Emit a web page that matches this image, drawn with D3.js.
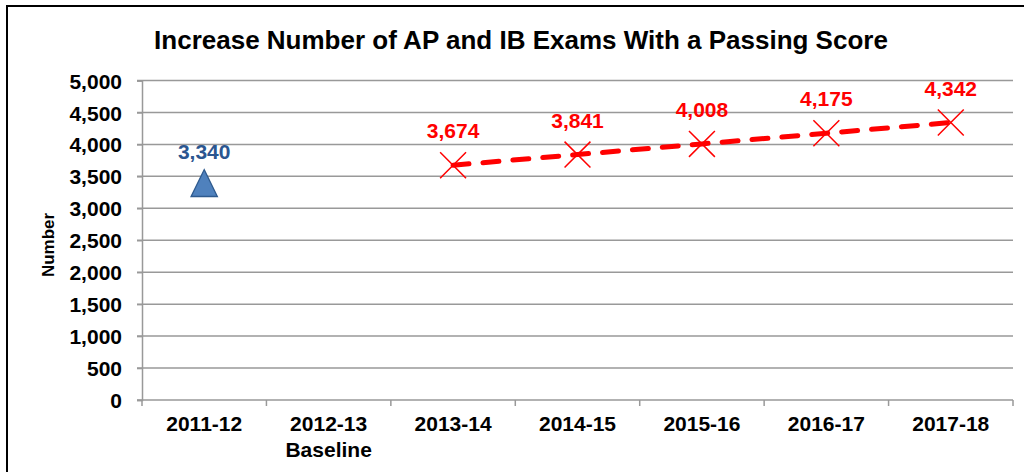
<!DOCTYPE html>
<html>
<head>
<meta charset="utf-8">
<script src="https://cdn.jsdelivr.net/npm/d3@7"></script>
<style>
  body { margin: 0; background: #fff; }
  svg { font-family: Arial, "Liberation Sans", sans-serif; }
</style>
</head>
<body>
<svg id="chart" width="1024" height="472"></svg>
<script>
// data
var categories = ["2011-12", "2012-13", "2013-14", "2014-15", "2015-16", "2016-17", "2017-18"];
var categoryNotes = ["", "Baseline", "", "", "", "", ""];
var actualValues = [3340, null, null, null, null, null, null];
var targetValues = [null, null, 3674, 3841, 4008, 4175, 4342];
var yTicks = [0, 500, 1000, 1500, 2000, 2500, 3000, 3500, 4000, 4500, 5000];

var svg = d3.select("#chart");
var plotLeft = 142, plotRight = 1013, plotTop = 80.5, plotBottom = 400;

// outer frame (right and bottom edges fall outside the picture)
svg.append("rect")
    .attr("x", 7).attr("y", 6)
    .attr("width", 1040).attr("height", 500)
    .attr("fill", "none")
    .attr("stroke", "#000")
    .attr("stroke-width", 2);

svg.append("text")
    .attr("x", 521)
    .attr("y", 49)
    .attr("text-anchor", "middle")
    .attr("font-size", "26px")
    .attr("font-weight", "bold")
    .text("Increase Number of AP and IB Exams With a Passing Score");

var x = d3.scaleBand().domain(categories).range([plotLeft, plotRight]);
var y = d3.scaleLinear().domain([0, 5000]).range([plotBottom, plotTop]);

// gridlines
svg.append("g")
    .selectAll("line")
    .data(yTicks)
    .enter().append("line")
    .attr("x1", plotLeft - 5).attr("x2", plotRight)
    .attr("y1", function(d) { return y(d); })
    .attr("y2", function(d) { return y(d); })
    .attr("stroke", "#999")
    .attr("stroke-width", 1.5);

// y axis
var yAxis = svg.append("g")
    .attr("transform", "translate(" + plotLeft + ",0)")
    .call(d3.axisLeft(y).tickValues(yTicks).tickSize(5).tickPadding(15).tickFormat(d3.format(",")));
yAxis.select(".domain").attr("stroke", "#999").attr("stroke-width", 1.5);
yAxis.selectAll(".tick line").attr("stroke", "#999").attr("stroke-width", 1.5);
yAxis.selectAll("text")
    .attr("font-size", "21px")
    .attr("font-weight", "bold")
    .attr("fill", "#000")
    .attr("dy", "0.36em")
    .attr("font-family", "Arial, 'Liberation Sans', sans-serif");

// x axis: ticks at category boundaries
var xAxis = svg.append("g").attr("transform", "translate(0," + plotBottom + ")");
var bounds = categories.map(function(c) { return x(c); }).concat([plotRight]);
xAxis.selectAll("line")
    .data(bounds)
    .enter().append("line")
    .attr("x1", function(d) { return d; }).attr("x2", function(d) { return d; })
    .attr("y1", 0).attr("y2", 6)
    .attr("stroke", "#999")
    .attr("stroke-width", 1.5);

xAxis.selectAll("text.cat")
    .data(categories)
    .enter().append("text")
    .attr("class", "cat")
    .attr("x", function(d) { return x(d) + x.bandwidth() / 2; })
    .attr("y", 31)
    .attr("text-anchor", "middle")
    .attr("font-size", "21px")
    .attr("font-weight", "bold")
    .text(function(d) { return d; });

xAxis.selectAll("text.note")
    .data(categories)
    .enter().append("text")
    .attr("class", "note")
    .attr("x", function(d) { return x(d) + x.bandwidth() / 2; })
    .attr("y", 57)
    .attr("text-anchor", "middle")
    .attr("font-size", "21px")
    .attr("font-weight", "bold")
    .text(function(d, i) { return categoryNotes[i]; });

svg.append("text")
    .attr("transform", "translate(54,245) rotate(-90)")
    .attr("text-anchor", "middle")
    .attr("font-size", "17px")
    .attr("font-weight", "bold")
    .text("Number");

function cx(i) { return x(categories[i]) + x.bandwidth() / 2; }

// target series: dashed red line with x markers
var targetPts = targetValues.map(function(v, i) { return { i: i, v: v }; })
    .filter(function(d) { return d.v !== null; });

var line = d3.line()
    .x(function(d) { return cx(d.i); })
    .y(function(d) { return y(d.v); });

svg.append("path")
    .datum(targetPts)
    .attr("d", line)
    .attr("fill", "none")
    .attr("stroke", "#FF0000")
    .attr("stroke-width", 5)
    .attr("stroke-dasharray", "16,14")
    .attr("stroke-linecap", "round");

var cross = d3.symbol().type(d3.symbolX).size(440);
svg.selectAll("path.xmark")
    .data(targetPts)
    .enter().append("path")
    .attr("class", "xmark")
    .attr("d", cross)
    .attr("transform", function(d) { return "translate(" + cx(d.i) + "," + y(d.v) + ")"; })
    .attr("fill", "none")
    .attr("stroke", "#FF0000")
    .attr("stroke-width", 1.5);

svg.selectAll("text.tlabel")
    .data(targetPts)
    .enter().append("text")
    .attr("class", "tlabel")
    .attr("x", function(d) { return cx(d.i); })
    .attr("y", function(d) { return y(d.v) - 27; })
    .attr("text-anchor", "middle")
    .attr("font-size", "21px")
    .attr("font-weight", "bold")
    .attr("fill", "#FF0000")
    .text(function(d) { return d3.format(",")(d.v); });

// actual series: blue triangle
var actualPts = actualValues.map(function(v, i) { return { i: i, v: v }; })
    .filter(function(d) { return d.v !== null; });

var tri = d3.symbol().type(d3.symbolTriangle).size(300);
svg.selectAll("path.tri")
    .data(actualPts)
    .enter().append("path")
    .attr("class", "tri")
    .attr("d", tri)
    .attr("transform", function(d) { return "translate(" + cx(d.i) + "," + (y(d.v) + 1) + ") scale(1,1.18)"; })
    .attr("fill", "#4F81BD")
    .attr("stroke", "#2E5A8E")
    .attr("stroke-width", 1.2);

svg.selectAll("text.alabel")
    .data(actualPts)
    .enter().append("text")
    .attr("class", "alabel")
    .attr("x", function(d) { return cx(d.i); })
    .attr("y", function(d) { return y(d.v) - 28; })
    .attr("text-anchor", "middle")
    .attr("font-size", "21px")
    .attr("font-weight", "bold")
    .attr("fill", "#2B5690")
    .text(function(d) { return d3.format(",")(d.v); });
</script>
</body>
</html>
